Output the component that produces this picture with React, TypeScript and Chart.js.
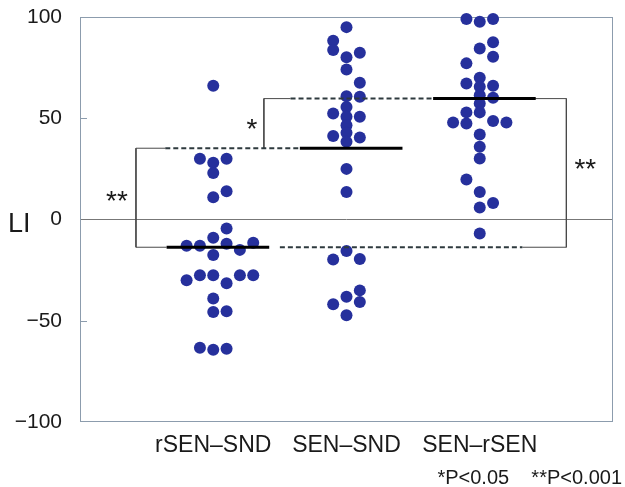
import React, { useEffect, useRef } from 'react';
import { Chart, registerables } from 'chart.js';

Chart.register(...registerables);

// ---------- data ----------
const categories = ['rSEN–SND', 'SEN–SND', 'SEN–rSEN'];
const yTickValues = [-100, -50, 0, 50, 100];

// LI values per group and the beeswarm column (in steps of 0.1 category) of each dot
const rsenSndValues = [66, 30, 28, 30, 23, 11, 14, -4.5, -9, -13, -13, -12, -11.5, -17.5, -15, -30, -27.5, -27.5, -31.5, -27.5, -27.5, -39, -45.7, -45.3, -63.3, -64.3, -63.8];
const rsenSndSlots = [0, -1, 0, 1, 0, 0, 1, 1, 0, -2, -1, 1, 3, 0, 2, -2, -1, 0, 1, 2, 3, 0, 0, 1, -1, 0, 1];

const senSndValues = [95, 88.3, 83.7, 80.1, 82.3, 74.1, 67.5, 60.9, 60.6, 55.6, 52.4, 50.7, 50.7, 46.5, 42.8, 41.2, 40.5, 38.4, 25, 13.6, -15.5, -19.8, -19.5, -35, -38.2, -41.9, -40.7, -47.3];
const senSndSlots = [0, -1, -1, 0, 1, 0, 1, 0, 1, 0, -1, 0, 1, 0, 0, -1, 1, 0, 0, 0, 0, -1, 1, 1, 0, -1, 1, 0];

const senRsenValues = [99, 97.7, 99, 84.5, 87.5, 80.4, 77.1, 67.2, 70, 65.5, 66, 61.4, 60.1, 57.3, 52.9, 52.9, 47.9, 47.4, 48.6, 47.9, 42, 35.9, 30.1, 19.8, 13.6, 8.2, 5.9, -6.9];
const senRsenSlots = [-1, 0, 1, 0, 1, 1, -1, -1, 0, 0, 1, 0, 1, 0, -1, 0, -2, -1, 1, 2, 0, 0, 0, -1, 0, 1, 0, 0];

const medians = [-13.7, 35.2, 59.7];

// significance brackets: vertical at x (category units), linking two medians
const bracketLabels = ['**', '*', '**'];
const bracketX = [0.42, 1.38, 3.65];
const bracketTop = [1, 2, 2];
const bracketBottom = [0, 1, 0];
const bracketTopArm = [0.64, 1.58, 3.4];
const bracketBottomArm = [0.65, 1.38, 3.32];
const bracketLabelY = [10.5, 46, 26.5];
const bracketLabelSide = [-1, -1, 1];

// dashed extensions of the medians
const dashMedian = [1, 2, 0];
const dashFrom = [0.64, 1.58, 1.5];
const dashTo = [1.65, 2.68, 3.32];

const footnote = '*P<0.05    **P<0.001';
const yTitle = 'LI';

// ---------- styles ----------
const FONT = '"Liberation Sans", Arial, sans-serif';
const DOT = '#26309c';
const TEXT = '#1a1a1a';
const FRAME = '#8c9cad';

const groups = [
  { values: rsenSndValues, slots: rsenSndSlots },
  { values: senSndValues, slots: senSndSlots },
  { values: senRsenValues, slots: senRsenSlots },
];

export default function App() {
  const ref = useRef<HTMLCanvasElement | null>(null);

  useEffect(() => {
    if (!ref.current) return;
    const datasets: any[] = [];

    groups.forEach((g, gi) => {
      datasets.push({
        type: 'scatter',
        data: g.values.map((v, i) => ({ x: gi + 1 + g.slots[i] * 0.1, y: v })),
        pointRadius: 6,
        pointHoverRadius: 6,
        backgroundColor: DOT,
        borderWidth: 0,
        clip: false,
        order: 2,
      });
    });

    medians.forEach((m, i) => {
      datasets.push({
        type: 'line',
        data: [{ x: i + 1 - 0.35, y: m }, { x: i + 1 + 0.42, y: m }],
        borderColor: '#000000',
        borderWidth: 3,
        pointRadius: 0,
        tension: 0,
        order: 0,
      });
    });

    dashMedian.forEach((mi, i) => {
      datasets.push({
        type: 'line',
        data: [{ x: dashFrom[i], y: medians[mi] }, { x: dashTo[i], y: medians[mi] }],
        borderColor: '#2e3a3e',
        borderWidth: 2,
        borderDash: [5, 3],
        pointRadius: 0,
        tension: 0,
        order: 1,
      });
    });

    bracketX.forEach((bx, i) => {
      const top = medians[bracketTop[i]];
      const bot = medians[bracketBottom[i]];
      datasets.push({
        type: 'line',
        data: [
          { x: bracketTopArm[i], y: top },
          { x: bx, y: top },
          { x: bx, y: bot },
          { x: bracketBottomArm[i], y: bot },
        ],
        borderColor: '#4a4a4a',
        borderWidth: 1,
        pointRadius: 0,
        tension: 0,
        order: 1,
      });
    });

    const decor = {
      id: 'decor',
      beforeDatasetsDraw(chart: any) {
        const { ctx, chartArea: a, scales } = chart;
        ctx.save();
        ctx.strokeStyle = FRAME;
        ctx.lineWidth = 1;
        ctx.strokeRect(a.left + 0.5, a.top + 0.5, a.right - a.left - 1, a.bottom - a.top - 1);
        // inward tick marks
        yTickValues.forEach((v) => {
          if (v === yTickValues[0] || v === yTickValues[yTickValues.length - 1] || v === 0) return;
          const py = Math.round(scales.y.getPixelForValue(v)) + 0.5;
          ctx.beginPath();
          ctx.moveTo(a.left, py);
          ctx.lineTo(a.left + 7, py);
          ctx.stroke();
        });
        ctx.restore();
      },
      afterDraw(chart: any) {
        const { ctx, chartArea: a, scales } = chart;
        ctx.save();
        ctx.fillStyle = TEXT;
        // y title (horizontal)
        ctx.font = `27px ${FONT}`;
        ctx.textAlign = 'left';
        ctx.textBaseline = 'alphabetic';
        ctx.fillText(yTitle, 8, scales.y.getPixelForValue(0) + 12);
        // asterisks
        ctx.font = `28px ${FONT}`;
        ctx.textAlign = 'center';
        bracketLabels.forEach((lab, i) => {
          const px = scales.x.getPixelForValue(bracketX[i]) + bracketLabelSide[i] * (i === 1 ? 12 : 19);
          const py = scales.y.getPixelForValue(bracketLabelY[i]) + 12;
          ctx.fillText(lab, px, py);
        });
        // footnote
        ctx.font = `20px ${FONT}`;
        ctx.textAlign = 'right';
        ctx.fillText(footnote, a.right + 9, 484);
        ctx.restore();
      },
    };

    const chart = new Chart(ref.current, {
      type: 'scatter',
      data: { datasets },
      options: {
        animation: false,
        responsive: false,
        events: [],
        layout: { padding: { top: 17, right: 12, left: 0, bottom: 0 } },
        plugins: { legend: { display: false }, tooltip: { enabled: false } },
        scales: {
          x: {
            type: 'linear',
            min: 0,
            max: 4,
            afterBuildTicks: (scale: any) => {
              scale.ticks = categories.map((_, i) => ({ value: i + 1 }));
            },
            afterFit: (scale: any) => {
              scale.height = 65;
              scale.paddingLeft = 0;
              scale.paddingRight = 0;
            },
            grid: { display: false, drawTicks: false },
            border: { display: false },
            ticks: {
              padding: 10,
              color: TEXT,
              font: { family: FONT, size: 23 },
              callback: (v: any) => categories[Number(v) - 1] ?? '',
            },
          },
          y: {
            type: 'linear',
            min: -100,
            max: 100,
            afterBuildTicks: (scale: any) => {
              scale.ticks = yTickValues.map((v) => ({ value: v }));
            },
            afterFit: (scale: any) => {
              scale.width = 80;
              scale.paddingTop = 0;
              scale.paddingBottom = 0;
            },
            grid: {
              drawTicks: false,
              color: (c: any) => (c.tick && c.tick.value === 0 ? '#777777' : 'rgba(0,0,0,0)'),
              lineWidth: 1,
            },
            border: { display: false },
            ticks: {
              padding: 18,
              color: TEXT,
              font: { family: FONT, size: 21 },
              callback: (v: any) => String(v).replace('-', '\u2212'),
            },
          },
        },
      } as any,
      plugins: [decor],
    });

    return () => chart.destroy();
  }, []);

  return (
    <div style={{ position: 'fixed', left: 0, top: 0, width: 625, height: 487, background: '#fff' }}>
      <canvas ref={ref} width={625} height={487} style={{ display: 'block' }} />
    </div>
  );
}
